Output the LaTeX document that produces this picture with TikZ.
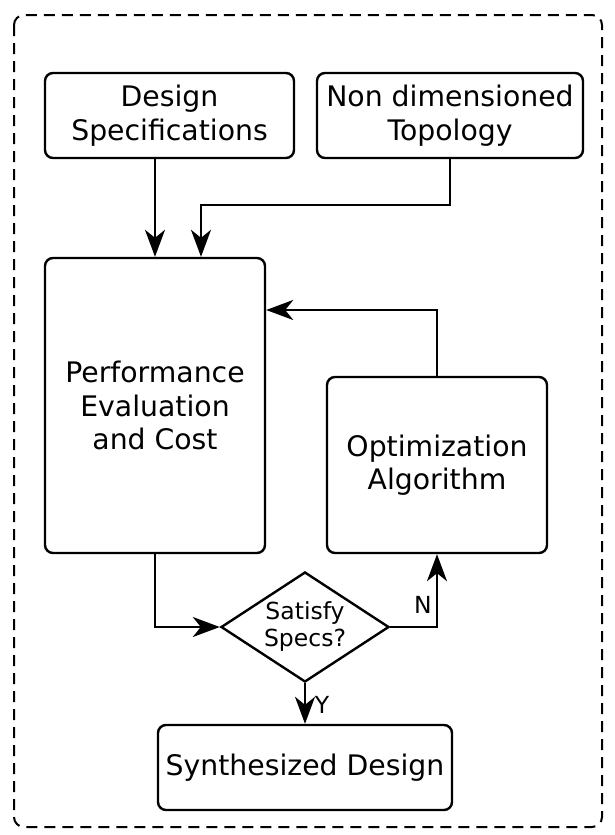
\documentclass[tikz,border=0pt]{standalone}
\usepackage{fontspec}
\setmainfont{DejaVu Sans}
\usetikzlibrary{arrows.meta,shapes.geometric}
\begin{document}
\begin{tikzpicture}[x=1pt,y=-1pt,
  line width=2.4pt,
  box/.style={draw,rectangle,rounded corners=8pt,align=center,inner sep=0pt,
    font=\fontsize{28.3}{33.5}\selectfont},
  decision/.style={draw,diamond,aspect=1.53,inner sep=0pt,align=center,
    minimum width=168pt,minimum height=110pt,font=\fontsize{23.5}{27}\selectfont},
  lbl/.style={inner sep=0pt,font=\fontsize{23.5}{27}\selectfont},
  arr/.style={-{Stealth[length=27pt,width=20pt,inset=8pt]}}]
\useasboundingbox (0,0) rectangle (614,835);
\fill[white] (0,0) rectangle (614,835);
\draw[line width=2pt,dash pattern=on 11pt off 7pt,rounded corners=10pt] (14,15) rectangle (602,827);

\node[box,minimum width=249pt,minimum height=85pt] (spec) at (169.5,115.5) {Design\\Specifications};
\node[box,minimum width=266pt,minimum height=85pt] (topo) at (450,115.5) {Non dimensioned\\Topology};
\node[box,minimum width=220pt,minimum height=295pt] (perf) at (155,405.5) {Performance\\Evaluation\\and Cost};
\node[box,minimum width=220pt,minimum height=176pt] (opt) at (437,465) {Optimization\\Algorithm};
\node[decision] (dec) at (305,627) {Satisfy\\Specs?};
\node[box,minimum width=294pt,minimum height=85pt] (syn) at (305,767.5) {Synthesized Design};

\coordinate (t1) at (450,205);
\coordinate (t2) at (201,205);
\coordinate (o1) at (437,310);
\coordinate (p1) at (155,627);
\coordinate (d1) at (437,627);

\draw[arr] (spec.south -| perf.south) -- (perf.north);
\draw[arr] (topo.south) -- (t1) -- (t2) -- (t2 |- perf.north);
\draw[arr] (opt.north) -- (o1) -- (o1 -| perf.east);
\draw[arr] (perf.south) -- (p1) -- (dec.west);
\draw[arr] (dec.east) -- (d1) -- (opt.south);
\draw[arr] (dec.south) -- (syn.north);

\node[lbl] (nlab) at (423,605) {N};
\node[lbl] (ylab) at (322,705) {Y};
\end{tikzpicture}
\end{document}
